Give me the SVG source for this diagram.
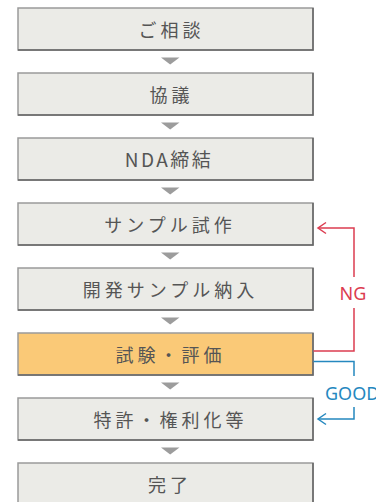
<svg xmlns="http://www.w3.org/2000/svg" width="376" height="502" viewBox="0 0 376 502">
<style>
.box{fill:#ebebe7;stroke:#9a9a9a;stroke-width:1.5}
.hl{fill:#fac977}
.edge{fill:none;stroke:#666;stroke-width:1.5}
.lbl{font-family:"Noto Sans CJK JP","Noto Sans",sans-serif;font-size:18px;fill:#555;text-anchor:middle;letter-spacing:4px}
.tri{fill:#9c9c9c}
.ng{fill:none;stroke:#dc3c50;stroke-width:1.5}
.good{fill:none;stroke:#2588bf;stroke-width:1.5}
.tng{font-family:"Noto Sans","Noto Sans CJK JP",sans-serif;font-size:18px;fill:#dc3c50;text-anchor:middle}
.tgood{font-family:"Noto Sans","Noto Sans CJK JP",sans-serif;font-size:18px;fill:#2588bf}
</style>
<rect width="376" height="502" fill="#fff"/>
<g id="n1"><rect class="box" x="18" y="8" width="295" height="42"/><path class="edge" d="M313,8V50H18"/><text class="lbl" x="171.5" y="37">ご相談</text></g>
<g id="n2"><rect class="box" x="18" y="73" width="295" height="42"/><path class="edge" d="M313,73V115H18"/><text class="lbl" x="171.5" y="102">協議</text></g>
<g id="n3"><rect class="box" x="18" y="138" width="295" height="42"/><path class="edge" d="M313,138V180H18"/><text class="lbl" x="169" y="167" style="letter-spacing:2.5px;font-size:19px">NDA締結</text></g>
<g id="n4"><rect class="box" x="18" y="203" width="295" height="42"/><path class="edge" d="M313,203V245H18"/><text class="lbl" x="170" y="232">サンプル試作</text></g>
<g id="n5"><rect class="box" x="18" y="268" width="295" height="42"/><path class="edge" d="M313,268V310H18"/><text class="lbl" x="170.5" y="297">開発サンプル納入</text></g>
<g id="n6"><rect class="box hl" x="18" y="333" width="295" height="42"/><path class="edge" d="M313,333V375H18"/><text class="lbl" x="170.5" y="362">試験・評価</text></g>
<g id="n7"><rect class="box" x="18" y="398" width="295" height="42"/><path class="edge" d="M313,398V440H18"/><text class="lbl" x="170.5" y="427">特許・権利化等</text></g>
<g id="n8"><rect class="box" x="18" y="463" width="295" height="42"/><path class="edge" d="M313,463V505H18"/><text class="lbl" x="170" y="492">完了</text></g>
<g id="connectors">
<polygon class="tri" points="161,57.5 179.5,57.5 170.2,64.5"/>
<polygon class="tri" points="161,122.5 179.5,122.5 170.2,129.5"/>
<polygon class="tri" points="161,187.5 179.5,187.5 170.2,194.5"/>
<polygon class="tri" points="161,252.5 179.5,252.5 170.2,259.5"/>
<polygon class="tri" points="161,317.5 179.5,317.5 170.2,324.5"/>
<polygon class="tri" points="161,382.5 179.5,382.5 170.2,389.5"/>
<polygon class="tri" points="161,447.5 179.5,447.5 170.2,454.5"/>
<path class="ng" d="M313.5,351H354V308"/>
<path class="ng" d="M354,277V228H318"/>
<path class="ng" d="M326,222.5L318,228L326,233.5"/>
<text class="tng" x="353" y="299.5">NG</text>
<path class="good" d="M313.5,361.5H354V376"/>
<path class="good" d="M354,407V419H318"/>
<path class="good" d="M326,413.5L318,419L326,424.5"/>
<text class="tgood" x="325" y="399.5">GOOD</text>
</g>
</svg>
